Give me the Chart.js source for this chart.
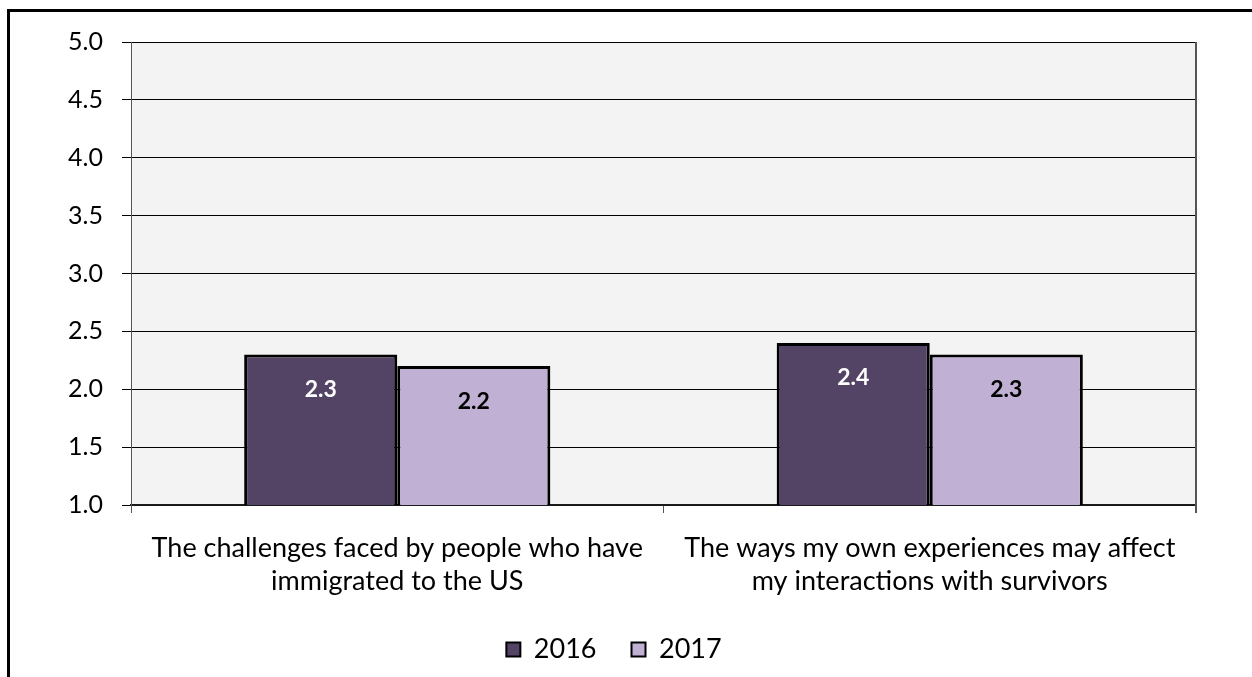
<!DOCTYPE html>
<html>
<head>
<meta charset="utf-8">
<title>Knowledge ratings 2016 vs 2017</title>
<script src="https://cdn.jsdelivr.net/npm/chart.js@4/dist/chart.umd.min.js"></script>
<style>
    html, body { margin: 0; padding: 0; background: #fff; overflow: hidden; }
    #frame {
        position: absolute; left: 7px; top: 9px;
        width: 1400px; height: 800px;
        border: 3px solid #000;
    }
    #myBarChart { position: absolute; left: 0; top: 0; }
</style>
</head>
<body>
<div id="frame"></div>
<canvas id="myBarChart" width="1252" height="677"></canvas>
<script>
// Dữ liệu
var categories = [
    ["The challenges faced by people who have", "immigrated to the US"],
    ["The ways my own experiences may affect", "my interactions with survivors"],
];
var years = ["2016", "2017"];
var values2016 = [2.3, 2.4];
var values2017 = [2.2, 2.3];
var yTicks = [1.0, 1.5, 2.0, 2.5, 3.0, 3.5, 4.0, 4.5, 5.0];

var FONT = "Lato, 'Noto Sans', sans-serif";

// nền xám cho vùng biểu đồ + viền phải
var plotBg = {
    id: "plotBg",
    beforeDraw: function (chart) {
        var a = chart.chartArea, c = chart.ctx;
        c.save();
        c.fillStyle = "#F3F3F3";
        c.fillRect(a.left, a.top, a.right - a.left, a.bottom - a.top);
        c.restore();
    },
    afterDraw: function (chart) {
        var a = chart.chartArea, c = chart.ctx;
        c.save();
        c.strokeStyle = "#555";
        c.lineWidth = 2;
        c.beginPath();
        c.moveTo(a.right, a.top);
        c.lineTo(a.right, a.bottom + 8);
        c.stroke();
        c.restore();
    },
    beforeLayout: function (chart) {
        // chiều cao cố định cho chú giải
        var lg = chart.legend;
        if (lg && !lg._fixed) {
            var fit = lg.fit;
            lg.fit = function () {
                fit.call(this);
                this.height = 76;
            };
            lg._fixed = true;
        }
    },
    afterLayout: function (chart) {
        // dời chú giải sang phải một chút
        if (chart.legend) {
            chart.legend.left += 16;
            chart.legend.right += 16;
        }
    },
};

// nhãn giá trị bên trong cột
var barLabels = {
    id: "barLabels",
    afterDatasetsDraw: function (chart) {
        var c = chart.ctx;
        c.save();
        c.font = "bold 23px " + FONT;
        c.textAlign = "center";
        c.textBaseline = "middle";
        chart.data.datasets.forEach(function (ds, i) {
            c.fillStyle = i === 0 ? "#fff" : "#000";
            chart.getDatasetMeta(i).data.forEach(function (bar, j) {
                c.fillText(ds.data[j].toFixed(1), bar.x, bar.y + 35);
            });
        });
        c.restore();
    },
};

var ctx = document.getElementById("myBarChart").getContext("2d");
var myBarChart = new Chart(ctx, {
    type: "bar",
    data: {
        labels: categories,
        datasets: [
            {
                label: years[0],
                data: values2016,
                backgroundColor: "#534465",
                borderColor: "#000",
                borderWidth: 3,
            },
            {
                label: years[1],
                data: values2017,
                backgroundColor: "#C0B0D4",
                borderColor: "#000",
                borderWidth: 3,
            },
        ],
    },
    options: {
        responsive: false,
        animation: false,
        categoryPercentage: 0.575,
        barPercentage: 1.0,
        layout: {
            padding: { left: 0, top: 42, right: 56, bottom: 0 },
        },
        scales: {
            x: {
                grid: {
                    drawOnChartArea: false,
                    drawTicks: true,
                    tickLength: 8,
                    color: "#555",
                },
                border: { color: "#1a1a1a", width: 2 },
                ticks: {
                    color: "#000",
                    padding: 19,
                    maxRotation: 0,
                    font: { family: FONT, size: 27, lineHeight: 1.22 },
                },
                afterFit: function (scale) {
                    scale.height = 96;
                },
            },
            y: {
                min: yTicks[0],
                max: yTicks[yTicks.length - 1],
                afterBuildTicks: function (scale) {
                    scale.ticks = yTicks.map(function (v) { return { value: v }; });
                },
                grid: {
                    color: "#000",
                    lineWidth: 1,
                    tickLength: 9,
                },
                border: { color: "#555", width: 1 },
                ticks: {
                    color: "#000",
                    padding: 19,
                    font: { family: FONT, size: 25 },
                    callback: function (v) { return Number(v).toFixed(1); },
                },
                afterFit: function (scale) {
                    scale.width = 131;
                },
            },
        },
        plugins: {
            legend: {
                position: "bottom",
                labels: {
                    boxWidth: 14,
                    boxHeight: 14,
                    padding: 35,
                    color: "#000",
                    font: { family: FONT, size: 27 },
                    generateLabels: function (chart) {
                        return chart.data.datasets.map(function (ds, i) {
                            return {
                                text: ds.label,
                                fillStyle: ds.backgroundColor,
                                strokeStyle: "#000",
                                lineWidth: 2,
                                datasetIndex: i,
                            };
                        });
                    },
                },
            },
            tooltip: { enabled: false },
        },
    },
    plugins: [plotBg, barLabels],
});
</script>
</body>
</html>
